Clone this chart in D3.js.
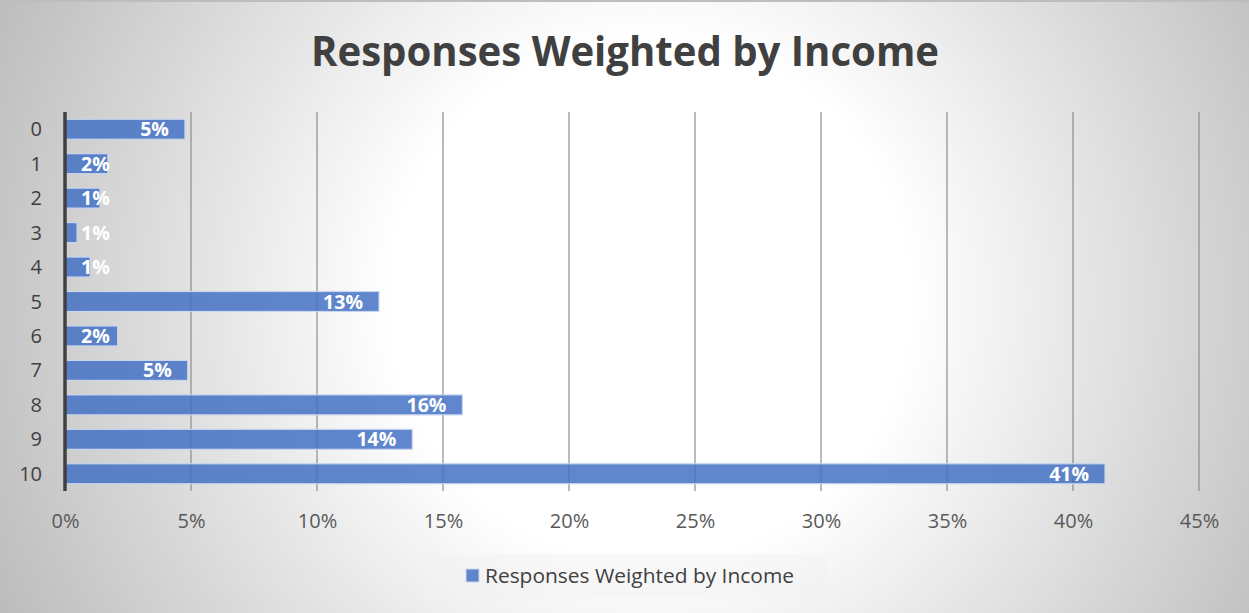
<!DOCTYPE html>
<html><head><meta charset="utf-8">
<script src="https://cdn.jsdelivr.net/npm/d3@7"></script>
<style>html,body{margin:0;padding:0;background:#fff;}svg{display:block;}</style>
</head><body>
<script>
const categories = ["0","1","2","3","4","5","6","7","8","9","10"];
const values = [4.76, 1.7, 1.39, 0.48, 1.0, 12.46, 2.09, 4.87, 15.77, 13.78, 41.27];
const valueLabels = ["5%","2%","1%","1%","1%","13%","2%","5%","16%","14%","41%"];
const xTicks = [0,5,10,15,20,25,30,35,40,45];
const titleText = "Responses Weighted by Income";
const seriesName = "Responses Weighted by Income";

const W = 1249, H = 613;
const svg = d3.select("body").append("svg").attr("width", W).attr("height", H);
const defs = svg.append("defs");
const rg = defs.append("radialGradient").attr("id","bg").attr("gradientUnits","userSpaceOnUse")
  .attr("cx",650).attr("cy",300).attr("r",720);
rg.append("stop").attr("offset","0%").attr("stop-color","#ffffff");
rg.append("stop").attr("offset","36%").attr("stop-color","#ffffff");
rg.append("stop").attr("offset","100%").attr("stop-color","#bcbcbc");
svg.append("rect").attr("width",W).attr("height",H).attr("fill","url(#bg)");
svg.append("line").attr("x1",0).attr("x2",W).attr("y1",1).attr("y2",1).attr("stroke","#bdbdbd").attr("stroke-width",2);

const font = "'Open Sans', 'Liberation Sans', sans-serif";

svg.append("text").attr("x",625).attr("y",66).attr("text-anchor","middle")
  .attr("font-family",font).attr("font-weight","bold").attr("font-size",41)
  .attr("fill","#404040").attr("textLength",628).attr("lengthAdjust","spacingAndGlyphs")
  .text(titleText);

const x = d3.scaleLinear().domain([0,45]).range([65,1199]);
const y = d3.scaleBand().domain(categories).range([112,491]).paddingInner(0.42).paddingOuter(0.21);

// gridlines
svg.append("g").selectAll("line").data(xTicks.filter(d=>d>0)).join("line")
  .attr("x1",d=>x(d)).attr("x2",d=>x(d)).attr("y1",112).attr("y2",491)
  .attr("stroke","#8c8c8c").attr("stroke-width",1.2);

// bars
svg.append("g").selectAll("rect").data(values).join("rect")
  .attr("x",x(0)).attr("y",(d,i)=>y(categories[i]))
  .attr("width",d=>x(d)-x(0)).attr("height",y.bandwidth())
  .attr("fill","#4472c4").attr("fill-opacity",0.85)
  .attr("stroke","#c9d6ee").attr("stroke-width",1.2);

// axis line
svg.append("line").attr("x1",65).attr("x2",65).attr("y1",112).attr("y2",491)
  .attr("stroke","#404040").attr("stroke-width",3.5);

// value labels
const lbl = svg.append("g").selectAll("text").data(values).join("text")
  .attr("y",(d,i)=>y(categories[i])+y.bandwidth()/2+7)
  .attr("font-family",font).attr("font-weight","bold").attr("font-size",19.5)
  .attr("fill","#ffffff").attr("text-anchor","end")
  .text((d,i)=>valueLabels[i]);
lbl.each(function(d,i){
  const w = this.getComputedTextLength();
  d3.select(this).attr("x", Math.max(x(d)-16, x(0)+16+w));
});

// y category labels
const yAxis = d3.axisLeft(y).tickSize(0).tickPadding(0);
const gy = svg.append("g").attr("transform","translate(42,0)").call(yAxis);
gy.select(".domain").remove();
gy.selectAll("text").attr("font-family",font).attr("font-size",20).attr("fill","#404040").attr("dy","0.35em");

// x axis labels
const xAxis = d3.axisBottom(x).tickValues(xTicks).tickFormat(d=>d+"%").tickSize(0).tickPadding(0);
const gx = svg.append("g").attr("transform","translate(0,514)").call(xAxis);
gx.select(".domain").remove();
gx.selectAll("text").attr("font-family",font).attr("font-size",20).attr("fill","#595959").attr("dy","0.71em");

// legend
svg.append("rect").attr("x",422).attr("y",554).attr("width",405).attr("height",44).attr("fill","#f2f2f2").attr("fill-opacity",0.45);
svg.append("rect").attr("x",466).attr("y",569).attr("width",13).attr("height",13).attr("fill","#4472c4").attr("fill-opacity",0.85).attr("stroke","#c9d6ee");
svg.append("text").attr("x",485).attr("y",583).attr("font-family",font).attr("font-size",20)
  .attr("fill","#404040").attr("textLength",309).attr("lengthAdjust","spacingAndGlyphs").text(seriesName);
</script>
</body></html>
